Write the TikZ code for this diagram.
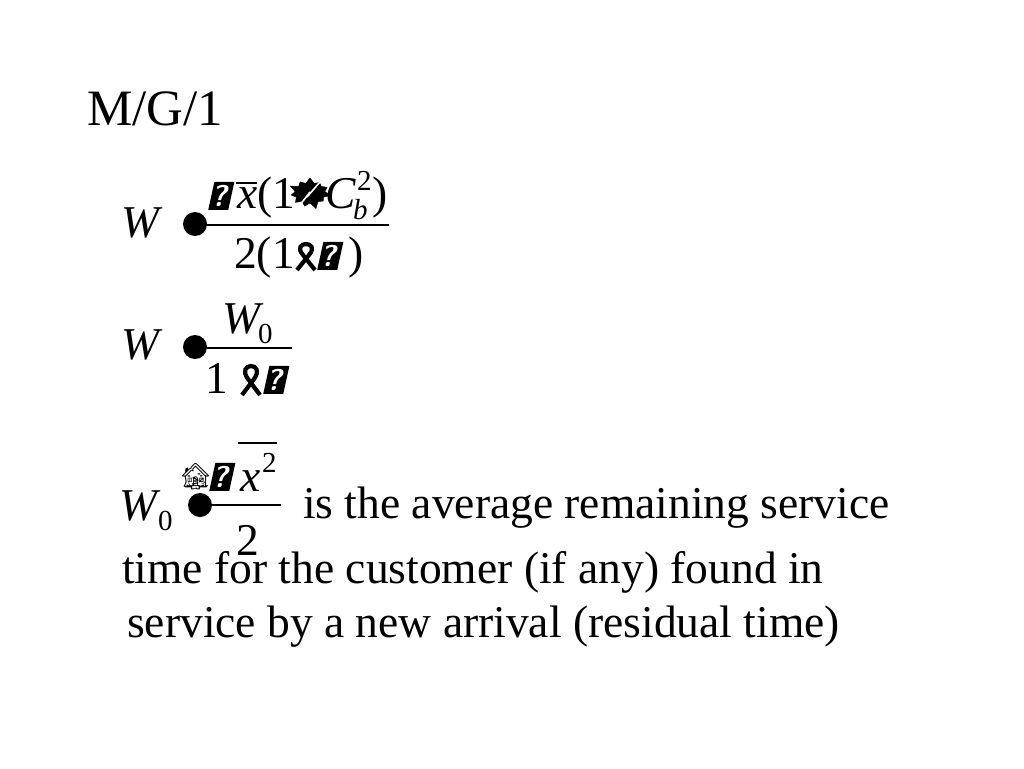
\documentclass[tikz,border=0pt]{standalone}
\usepackage{fontspec}
\setmainfont{Liberation Serif}
\newfontfamily\emojifont{Noto Emoji}
\usetikzlibrary{shapes.symbols,calc}
\begin{document}
\begin{tikzpicture}[x=1pt,y=-1pt,
  txt/.style={anchor=base west, inner sep=0pt, font=\fontsize{45.5}{52}\selectfont},
  ttl/.style={anchor=base west, inner sep=0pt, font=\fontsize{51}{58}\selectfont},
  sub/.style={anchor=base west, inner sep=0pt, font=\fontsize{29}{32}\selectfont},
  eqdot/.style={fill=black, circle, inner sep=0pt, minimum size=24pt},
  fbar/.style={line width=1.5pt},
  qbox/.style={fill=black, text=white, anchor=south west, inner sep=0pt,
    minimum width=20pt, minimum height=28pt, xslant=0.22, transform shape,
    font=\sffamily\bfseries\fontsize{30}{30}\selectfont},
  ribbonline/.style={line width=4.2pt, line cap=butt, black},
  burst/.style={starburst, fill=black, draw=black, inner sep=0pt,
    minimum width=44pt, minimum height=34pt, starburst points=11, starburst point height=7pt}
]
\useasboundingbox (0,0) rectangle (1024,768);
\fill[white] (0,0) rectangle (1024,768);

% title
\node[ttl] (title) at (87,125) {M/G/1};

% ---------- formula 1
\node[txt] (w1) at (121,237) {\textit{W}};
\node[eqdot] (d1) at (195,224) {};
\coordinate (b1l) at (205,225);
\coordinate (b1r) at (389,225);
\draw[fbar] (b1l) -- (b1r);
\node[qbox] (r1) at (208,210) {?};
\node[txt] (x1) at (237,208) {\textit{x}};
\coordinate (ol1a) at (236,183);
\coordinate (ol1b) at (257,183);
\draw[line width=1.3pt] (ol1a) -- (ol1b);
\node[txt] (p1) at (257,208) {(1};
\node[burst] (plus1) at (310,193) {};
\coordinate (z1a) at (300,205);
\coordinate (z1b) at (310,192);
\coordinate (z1c) at (307,197);
\coordinate (z1d) at (320,182);
\draw[white, line width=1.6pt] (z1a) -- (z1b) -- (z1c) -- (z1d);
\node[txt] (c1) at (325,208) {\textit{C}};
\node[sub] (bsub) at (353,219) {\textit{b}};
\node[sub] (sup1) at (357,190) {2};
\node[txt] (q1) at (372,208) {)};
% denominator
\node[txt] (den1) at (234,268) {2(1};
\coordinate (rb1) at (306,257);
\draw[ribbonline] ($(rb1)+(-9,13)$) -- ($(rb1)+(3,-2)$)
   .. controls ($(rb1)+(9,-9)$) and ($(rb1)+(5,-13)$) .. ($(rb1)+(0,-13)$)
   .. controls ($(rb1)+(-5,-13)$) and ($(rb1)+(-9,-9)$) .. ($(rb1)+(-3,-2)$)
   -- ($(rb1)+(9,13)$);
\node[qbox] (r2) at (317,270) {?};
\node[txt] (q2) at (348,268) {)};

% ---------- formula 2
\node[txt] (w2) at (121,359) {\textit{W}};
\node[eqdot] (d2) at (195,347) {};
\coordinate (b2l) at (205,348);
\coordinate (b2r) at (292,348);
\draw[fbar] (b2l) -- (b2r);
\node[txt] (w2n) at (222,333) {\textit{W}};
\node[sub] (w2s) at (258,343) {0};
\node[txt] (one2) at (205,393) {1};
\coordinate (rb2) at (251,381);
\draw[ribbonline] ($(rb2)+(-9,14)$) -- ($(rb2)+(3,-2)$)
   .. controls ($(rb2)+(9,-10)$) and ($(rb2)+(5,-15)$) .. ($(rb2)+(0,-15)$)
   .. controls ($(rb2)+(-5,-15)$) and ($(rb2)+(-9,-10)$) .. ($(rb2)+(-3,-2)$)
   -- ($(rb2)+(9,14)$);
\node[qbox] (r3) at (263,394) {?};

% ---------- formula 3
\node[txt] (w3) at (119,520) {\textit{W}};
\node[sub] (w3s) at (158,530) {0};
\node[eqdot] (d3) at (200,505) {};
\coordinate (b3l) at (210,505);
\coordinate (b3r) at (281,505);
\draw[fbar] (b3l) -- (b3r);
\node[anchor=south west, inner sep=0pt, font=\emojifont\fontsize{26}{26}\selectfont] (lam) at (179,490) {\char"1F3DA};
\node[qbox] (r4) at (209,491) {?};
\node[txt] (x3) at (240,491) {\textit{x}};
\node[sub] (sup3) at (262,472) {2};
\coordinate (ol3a) at (238,443);
\coordinate (ol3b) at (277,443);
\draw[line width=1.3pt] (ol3a) -- (ol3b);
\node[txt] (two3) at (236,555) {2};

% ---------- text
\node[txt] (l1) at (303,518) {is the average remaining service};
\node[txt] (l2) at (122,583) {time for the customer (if any) found in};
\node[txt] (l3) at (127,637) {service by a new arrival (residual time)};
\end{tikzpicture}
\end{document}
